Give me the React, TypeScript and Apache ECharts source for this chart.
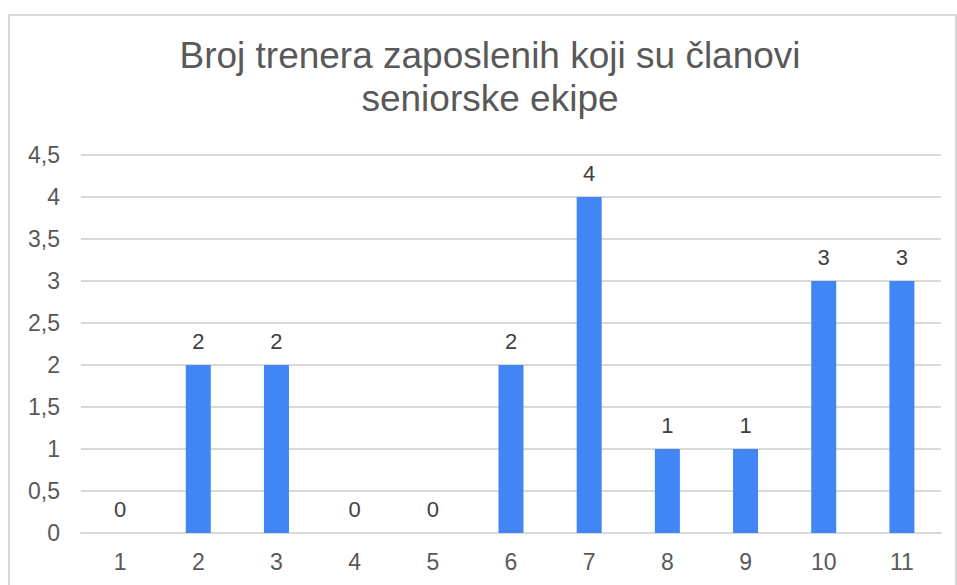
import React, { useEffect, useRef } from "react";
import * as echarts from "echarts";

const titleText = "Broj trenera zaposlenih koji su članovi\nseniorske ekipe";
const categories = ["1", "2", "3", "4", "5", "6", "7", "8", "9", "10", "11"];
const values = [0, 2, 2, 0, 0, 2, 4, 1, 1, 3, 3];
const yMax = 4.5;
const yStep = 0.5;

const FONT = "Liberation Sans, Arial, sans-serif";

export default function App() {
  const ref = useRef<HTMLDivElement>(null);
  useEffect(() => {
    if (!ref.current) return;
    const chart = echarts.init(ref.current, null, { renderer: "svg" });
    chart.setOption({
      animation: false,
      backgroundColor: "#ffffff",
      title: {
        text: titleText,
        left: 490,
        top: 34,
        textAlign: "center",
        padding: 0,
        textStyle: {
          fontFamily: FONT,
          fontSize: 37,
          fontWeight: "normal",
          color: "#595959",
          lineHeight: 43,
        },
      },
      graphic: [
        {
          type: "rect",
          shape: { x: 9, y: 15, width: 947, height: 620 },
          style: { fill: "none", stroke: "#d9d9d9", lineWidth: 2 },
          silent: true,
        },
      ],
      grid: { left: 81, right: 16, top: 155, bottom: 52, containLabel: false },
      xAxis: {
        type: "category",
        data: categories,
        axisLine: { show: true, lineStyle: { color: "#d9d9d9", width: 2 } },
        axisTick: { show: false },
        axisLabel: {
          fontFamily: FONT,
          fontSize: 23,
          color: "#595959",
          margin: 17,
        },
      },
      yAxis: {
        type: "value",
        min: 0,
        max: yMax,
        interval: yStep,
        axisLine: { show: false },
        axisTick: { show: false },
        splitLine: { lineStyle: { color: "#d9d9d9", width: 2 } },
        axisLabel: {
          fontFamily: FONT,
          fontSize: 23,
          color: "#595959",
          margin: 21,
          formatter: (v: number) => String(v).replace(".", ","),
        },
      },
      series: [
        {
          type: "bar",
          data: values,
          barWidth: 25,
          itemStyle: { color: "#4285F4" },
          label: {
            show: true,
            position: "top",
            distance: 13,
            fontFamily: FONT,
            fontSize: 22,
            color: "#404040",
          },
        },
      ],
    });
    return () => chart.dispose();
  }, []);
  return (
    <div
      ref={ref}
      style={{ position: "fixed", left: 0, top: 0, width: 957, height: 585 }}
    />
  );
}
